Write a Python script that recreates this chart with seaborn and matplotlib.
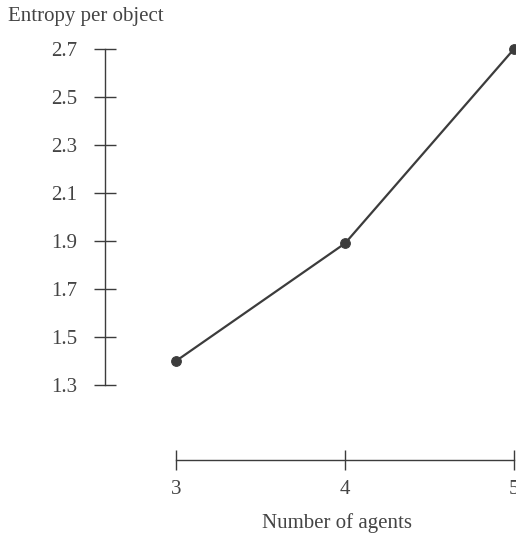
import numpy as np
import pandas as pd
import seaborn as sns
import matplotlib
matplotlib.use("Agg")
import matplotlib.pyplot as plt

# data
agents = [3, 4, 5]
entropy = [1.40, 1.89, 2.70]
y_ticks = [1.3, 1.5, 1.7, 1.9, 2.1, 2.3, 2.5, 2.7]

df = pd.DataFrame({"agents": agents, "entropy": entropy})

sns.set_theme(style="white")
plt.rcParams["font.family"] = ["Liberation Serif", "DejaVu Serif"]
ink = "#3c3c3c"
text_col = "#444444"

W, H = 516, 534
fig = plt.figure(figsize=(W / 100, H / 100), dpi=100)
# axes box in pixels: left 105, right 516, top 40, bottom 460
ax = fig.add_axes([105 / W, (H - 460) / H, (516 - 105) / W, (460 - 40) / H])
ax.set_facecolor("none")

sns.lineplot(data=df, x="agents", y="entropy", ax=ax, color=ink,
             marker="o", markersize=7, linewidth=1.6,
             markeredgecolor=ink, clip_on=False)

# pixel scales: 169 px per agent, 240 px per entropy unit
ax.set_xlim(3 - 71 / 169, 5 + 2 / 169)
ax.set_ylim(1.3 - 75 / 240, 2.7 + 9 / 240)

for s in ["top", "right"]:
    ax.spines[s].set_visible(False)
for s in ["left", "bottom"]:
    ax.spines[s].set_color(ink)
    ax.spines[s].set_linewidth(1.0)
ax.spines["left"].set_bounds(1.3, 2.7)
ax.spines["bottom"].set_bounds(3, 5)

ax.set_xticks(agents)
ax.set_xticklabels([str(a) for a in agents])
ax.set_yticks(y_ticks)
ax.set_yticklabels([f"{t:.1f}" for t in y_ticks])

ax.tick_params(axis="y", direction="inout", length=16, width=1.0, color=ink,
               pad=12, labelsize=15, labelcolor=text_col, left=True)
ax.tick_params(axis="x", direction="inout", length=14.5, width=1.0, color=ink,
               pad=7, labelsize=15, labelcolor=text_col, bottom=True)

ax.set_xlabel("Number of agents", fontsize=15, color=text_col)
ax.xaxis.set_label_coords((337 - 105) / (516 - 105), -(523 - 460) / (460 - 40))
ax.xaxis.label.set_va("center")
ax.set_ylabel("")
fig.text(8 / W, 1 - 17 / H, "Entropy per object", fontsize=15, color=text_col,
         ha="left", va="center")

fig.savefig("out.png", dpi=100)
